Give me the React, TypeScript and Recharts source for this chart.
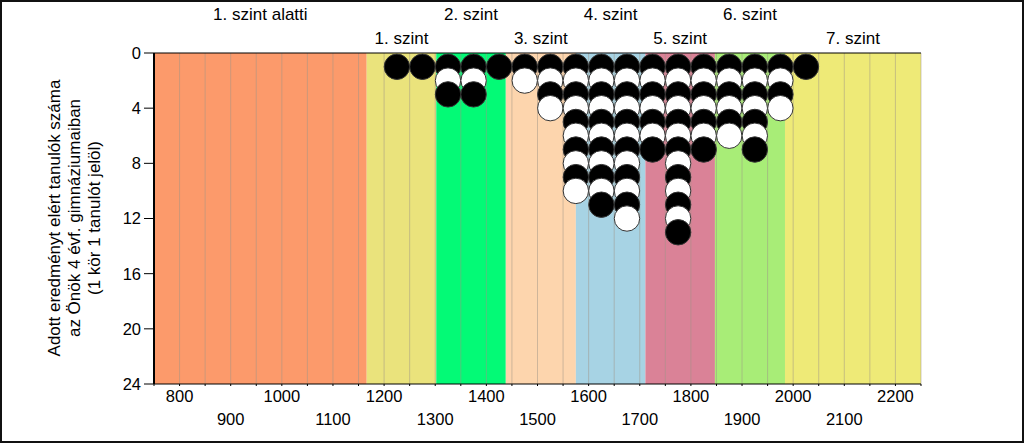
import { ScatterChart, Scatter, XAxis, YAxis, ReferenceArea, ReferenceLine } from "recharts"

const levelNames = ["1. szint alatti", "1. szint", "2. szint", "3. szint", "4. szint", "5. szint", "6. szint", "7. szint"]
const levelBounds = [750, 1166, 1302, 1438, 1575, 1711, 1847, 1984, 2250]
const levelColors = ["#fc9a6b", "#eae37c", "#03fa76", "#fdd5ad", "#a7d3e4", "#da8297", "#a8ed77", "#eeea77"]

const scoreBins = [1225, 1275, 1325, 1375, 1425, 1475, 1525, 1575, 1625, 1675, 1725, 1775, 1825, 1875, 1925, 1975, 2025]
const studentCounts = [1, 1, 3, 3, 1, 2, 4, 10, 11, 12, 7, 13, 7, 6, 7, 4, 1]

const xTicks = [750, 800, 850, 900, 950, 1000, 1050, 1100, 1150, 1200, 1250, 1300, 1350, 1400, 1450, 1500, 1550, 1600, 1650, 1700, 1750, 1800, 1850, 1900, 1950, 2000, 2050, 2100, 2150, 2200, 2250]
const xLabelsTop = [800, 1000, 1200, 1400, 1600, 1800, 2000, 2200]
const xLabelsBottom = [900, 1100, 1300, 1500, 1700, 1900, 2100]
const yTicks = [0, 4, 8, 12, 16, 20, 24]

const axisTitle = ["Adott eredményt elért tanulók száma", "az Önök 4 évf. gimnáziumaiban", "(1 kör 1 tanulót jelöl)"]

// one circle per student, stacked from the top of each score bin
const points = scoreBins.flatMap((score, i) =>
  Array.from({ length: studentCounts[i] }, (_, k) => ({ score, rank: k + 1, dark: k % 2 === 0 }))
)

const Dot = (props: any) => (
  <circle cx={props.cx} cy={props.cy} r={12.7} fill={props.payload.dark ? "#000" : "#fff"} stroke="#333" strokeWidth={1} />
)

const BottomTick = (props: any) => {
  const v = props.payload.value
  let dy = 0
  if (xLabelsTop.includes(v)) dy = 16
  else if (xLabelsBottom.includes(v)) dy = 39
  else return <g />
  return (
    <text x={props.x} y={props.y + dy} textAnchor="middle" fontSize={16.5} fill="#000">
      {v}
    </text>
  )
}

const YTitle = () => (
  <g transform="translate(0, 218) rotate(-90)">
    {axisTitle.map((line, i) => (
      <text key={i} x={0} y={60 + i * 20} textAnchor="middle" fontSize={17} fill="#000">
        {line}
      </text>
    ))}
  </g>
)

export default function App() {
  return (
    <div style={{ position: "absolute", left: 0, top: 0, width: 1024, height: 443, background: "#fff", fontFamily: "'Liberation Sans', Arial, sans-serif" }}>
      <ScatterChart width={1024} height={443} margin={{ top: 0, right: 103, bottom: 0, left: 0 }}>
        {levelNames.map((name, i) => (
          <ReferenceArea
            key={name}
            x1={levelBounds[i]}
            x2={levelBounds[i + 1]}
            fill={levelColors[i]}
            fillOpacity={1}
            stroke="none"
            label={{ value: name, position: "top", offset: i % 2 === 0 ? 33 : 9, fontSize: 17, fill: "#000" }}
          />
        ))}
        {xTicks.slice(1).map((v) => (
          <ReferenceLine key={v} x={v} stroke="rgba(160,150,135,0.5)" strokeWidth={1} />
        ))}
        {/* left axis line, kept above the bands */}
        <ReferenceLine x={xTicks[0]} stroke="#000" strokeWidth={2} ifOverflow="visible" />
        <XAxis
          type="number"
          dataKey="score"
          domain={[750, 2250]}
          ticks={xTicks}
          interval={0}
          height={59}
          tickSize={2}
          tickMargin={0}
          axisLine={{ stroke: "#000" }}
          tickLine={{ stroke: "#000" }}
          tick={<BottomTick />}
        />
        <XAxis
          xAxisId="top"
          orientation="top"
          type="number"
          domain={[750, 2250]}
          ticks={xTicks}
          interval={0}
          height={53}
          tickSize={5}
          axisLine={{ stroke: "#000" }}
          tickLine={{ stroke: "#000" }}
          tick={() => <g />}
        />
        <YAxis
          type="number"
          dataKey="rank"
          domain={[0, 24]}
          reversed
          ticks={yTicks}
          interval={0}
          width={154}
          tickSize={10}
          tickMargin={3}
          axisLine={{ stroke: "#000" }}
          tickLine={{ stroke: "#000" }}
          tick={{ fontSize: 16.5, fill: "#000" }}
          label={<YTitle />}
        />
        <Scatter data={points} shape={<Dot />} isAnimationActive={false} />
      </ScatterChart>
      <div style={{ position: "absolute", inset: 0, border: "2px solid #111", boxSizing: "border-box", pointerEvents: "none" }} />
    </div>
  )
}
